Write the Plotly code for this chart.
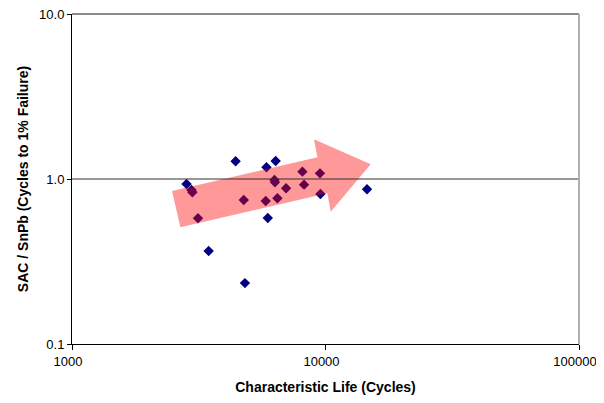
import plotly.graph_objects as go

# Scatter points (log-log)
char_life = [2830, 2960, 2985, 3140, 3460, 4420, 4760, 4810, 5850, 5810, 5920,
             6360, 6290, 6320, 6460, 6990, 8110, 8230, 9510, 9550, 14580]
ratio = [0.933, 0.858, 0.831, 0.578, 0.366, 1.28, 0.746, 0.234, 1.177, 0.736, 0.580,
         1.286, 0.986, 0.955, 0.764, 0.878, 1.108, 0.924, 1.082, 0.811, 0.866]

# Trend arrow outline (data units)
arrow_x = [2677, 2480, 9290, 9008, 15078, 10483, 10174, 2677]
arrow_y = [0.510, 0.846, 1.354, 1.740, 1.228, 0.634, 0.819, 0.510]

x_ticks = [1000, 10000, 100000]
y_ticks = [0.1, 1, 10]
y_tick_text = ["0.1", "1.0", "10.0"]

fig = go.Figure()
fig.add_trace(
    go.Scatter(
        x=char_life,
        y=ratio,
        mode="markers",
        marker={"symbol": "diamond", "size": 8, "color": "#000080", "line": {"width": 0}},
        showlegend=False,
    )
)
fig.add_trace(
    go.Scatter(
        x=arrow_x,
        y=arrow_y,
        mode="lines",
        fill="toself",
        fillcolor="rgba(255,0,0,0.4)",
        line={"width": 0},
        showlegend=False,
        hoverinfo="skip",
    )
)

# reference line at 1.0 and gray top/right frame
fig.add_hline(y=1, line_color="#303030", line_width=1)
fig.add_shape(type="line", xref="paper", yref="paper", x0=0, x1=1, y0=1, y1=1,
              line={"color": "#8c8c8c", "width": 2})
fig.add_shape(type="line", xref="paper", yref="paper", x0=1, x1=1, y0=0, y1=1,
              line={"color": "#b0b0b0", "width": 2})

# page body adds an 8px margin; figure sized so the page does not scroll
fig.update_layout(
    width=596,
    height=387,
    margin={"l": 64, "r": 25, "t": 6, "b": 51},
    paper_bgcolor="white",
    plot_bgcolor="white",
    font={"family": "Liberation Sans, Arial, sans-serif", "size": 13, "color": "black"},
    xaxis={
        "type": "log",
        "range": [3, 5],
        "tickvals": x_ticks,
        "ticktext": [str(v) for v in x_ticks],
        "ticklabelshift": -4,
        "showgrid": False,
        "showline": True,
        "linecolor": "black",
        "linewidth": 1,
        "ticks": "outside",
        "ticklen": 5,
        "tickcolor": "black",
        "zeroline": False,
        "automargin": False,
        "ticklabeloverflow": "allow",
        "title": {"text": "<b>Characteristic Life (Cycles)</b>", "font": {"size": 14}, "standoff": 16},
    },
    yaxis={
        "type": "log",
        "range": [-1, 1],
        "tickvals": y_ticks,
        "ticktext": y_tick_text,
        "showgrid": False,
        "showline": True,
        "linecolor": "black",
        "linewidth": 1,
        "ticks": "outside",
        "ticklen": 4,
        "tickcolor": "black",
        "zeroline": False,
        "automargin": False,
        "ticklabeloverflow": "allow",
        "title": {"text": "<b>SAC / SnPb (Cycles to 1% Failure)</b>", "font": {"size": 14}, "standoff": 7},
    },
)

fig.write_html("out.html")
